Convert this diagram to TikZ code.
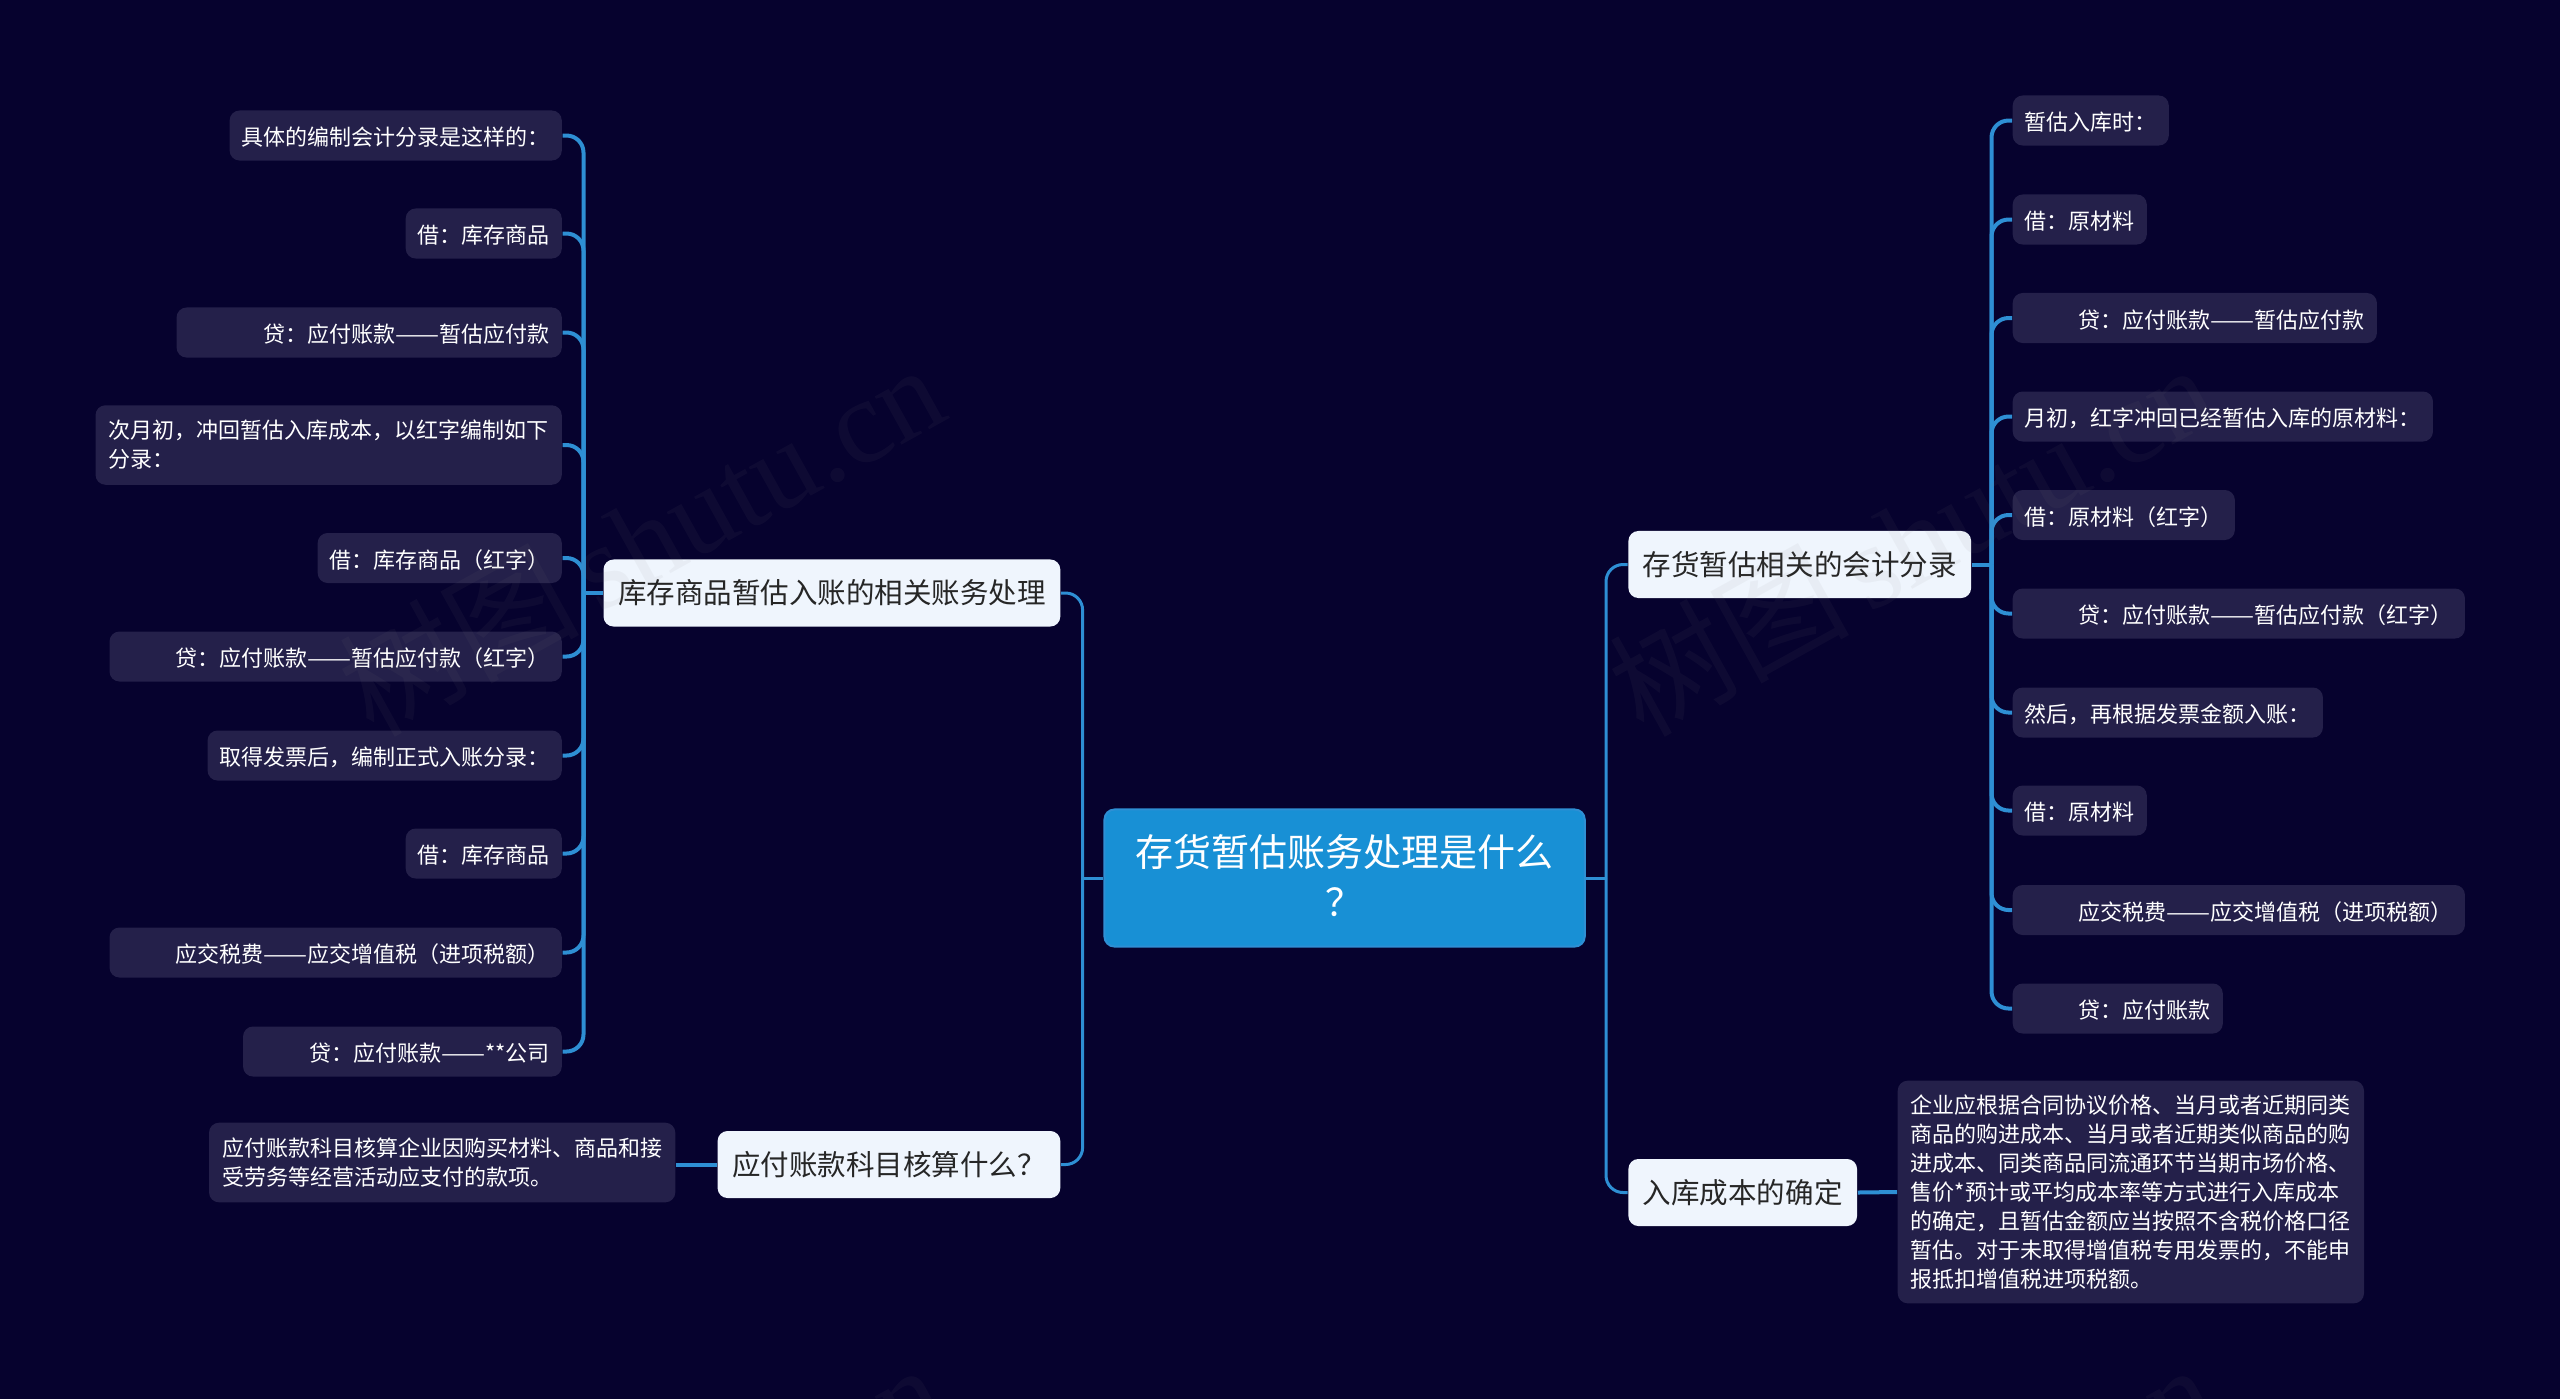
\documentclass[tikz,border=0pt]{standalone}
\usepackage{fontspec}
\setmainfont{Noto Sans CJK SC}
\newfontfamily\markFont{Liberation Serif}
\newfontfamily\markFontCJK{Noto Sans CJK SC}
\newcommand*{\dashLong}{\resizebox{2em}{\height}{——}}

\definecolor{pageBg}{HTML}{06022E}
\definecolor{leafFill}{HTML}{24204A}
\definecolor{hubFill}{HTML}{EFF5FD}
\definecolor{rootFill}{HTML}{1890D5}
\definecolor{linkBlue}{HTML}{2E8FD4}

\tikzset{
	leaf/.style={fill=leafFill,text=white,rounded corners=0.1cm,align=left,
		inner xsep=0.12cm,inner ysep=0.125cm,minimum height=0.5cm,
		execute at begin node={\rule{0pt}{0.224cm}},
		font=\fontsize{0.22cm}{0.29cm}\selectfont},
	hub/.style={fill=hubFill,text=black!85,rounded corners=0.1cm,
		inner xsep=0.145cm,inner ysep=0.1cm,minimum height=0.67cm,
		font=\fontsize{0.285cm}{0.36cm}\selectfont},
	root/.style={fill=rootFill,draw=linkBlue,line width=0.02cm,text=white,rounded corners=0.1cm,
		align=center,minimum width=4.8cm,minimum height=1.37cm,
		execute at end node={\rule[-0.05cm]{0pt}{0pt}},
		font=\fontsize{0.38cm}{0.505cm}\selectfont},
	mainLink/.style={draw=linkBlue,line width=0.03cm,rounded corners=0.17cm},
	subLink/.style={draw=linkBlue,line width=0.04cm,rounded corners=0.17cm},
	shutuMark/.style={gray,opacity=0.07,rotate=29,inner sep=0pt,
		font=\fontsize{1.2cm}{1.2cm}\markFont}
}

\begin{document}
\begin{tikzpicture}[x=0.01cm,y=-0.01cm]
	\useasboundingbox (0,0) rectangle (2560,1399);
	\fill[pageBg] (0,0) rectangle (2560,1399);
	
	% root
	\node[root] (root) at (1344.6,878) {存货暂估账务处理是什么\\？};
	
	% hubs left
	\node[hub,anchor=east] (hubStock) at (1061,593) {库存商品暂估入账的相关账务处理};
	\node[hub,anchor=east] (hubPayable) at (1061,1164.5) {应付账款科目核算什么？};
	
	% hubs right
	\node[hub,anchor=west] (hubEntry) at (1627.7,564.5) {存货暂估相关的会计分录};
	\node[hub,anchor=west] (hubCost) at (1627.7,1192.5) {入库成本的确定};
	
	% leaves of hubStock
	\node[leaf,anchor=east] (leafA1) at (562.5,135.5) {具体的编制会计分录是这样的：};
	\node[leaf,anchor=east] (leafA2) at (562.5,233.5) {借：库存商品};
	\node[leaf,anchor=east] (leafA3) at (562.5,332.5) {\hspace*{0.75cm}贷：应付账款\dashLong 暂估应付款};
	\node[leaf,anchor=east,inner xsep=0.13cm,inner ysep=0.15cm] (leafA4) at (562.5,445) {次月初，冲回暂估入库成本，以红字编制如下\\分录：};
	\node[leaf,anchor=east] (leafA5) at (562.5,558) {借：库存商品（红字）};
	\node[leaf,anchor=east] (leafA6) at (562.5,656.5) {\hspace*{0.54cm}贷：应付账款\dashLong 暂估应付款（红字）};
	\node[leaf,anchor=east] (leafA7) at (562.5,755.5) {取得发票后，编制正式入账分录：};
	\node[leaf,anchor=east] (leafA8) at (562.5,853.5) {借：库存商品};
	\node[leaf,anchor=east] (leafA9) at (562.5,952.5) {\hspace*{0.54cm}应交税费\dashLong 应交增值税（进项税额）};
	\node[leaf,anchor=east] (leafA10) at (562.5,1051.5) {\hspace*{0.54cm}贷：应付账款\dashLong **公司};
	
	% leaf of hubPayable
	\node[leaf,anchor=east,inner xsep=0.13cm,inner ysep=0.15cm] (leafB1) at (676,1162.5) {应付账款科目核算企业因购买材料、商品和接\\受劳务等经营活动应支付的款项。};
	
	% leaves of hubEntry
	\node[leaf,anchor=west] (leafC1) at (2012,120.5) {暂估入库时：};
	\node[leaf,anchor=west] (leafC2) at (2012,219.5) {借：原材料};
	\node[leaf,anchor=west] (leafC3) at (2012,318) {\hspace*{0.54cm}贷：应付账款\dashLong 暂估应付款};
	\node[leaf,anchor=west] (leafC4) at (2012,416.5) {月初，红字冲回已经暂估入库的原材料：};
	\node[leaf,anchor=west] (leafC5) at (2012,515) {借：原材料（红字）};
	\node[leaf,anchor=west] (leafC6) at (2012,613.5) {\hspace*{0.54cm}贷：应付账款\dashLong 暂估应付款（红字）};
	\node[leaf,anchor=west] (leafC7) at (2012,712.5) {然后，再根据发票金额入账：};
	\node[leaf,anchor=west] (leafC8) at (2012,810.5) {借：原材料};
	\node[leaf,anchor=west] (leafC9) at (2012,910) {\hspace*{0.54cm}应交税费\dashLong 应交增值税（进项税额）};
	\node[leaf,anchor=west] (leafC10) at (2012,1008.5) {\hspace*{0.54cm}贷：应付账款};
	
	% leaf of hubCost
	\node[leaf,anchor=west,inner xsep=0.13cm,inner ysep=0.14cm] (leafD1) at (1897,1192) {企业应根据合同协议价格、当月或者近期同类\\商品的购进成本、当月或者近期类似商品的购\\进成本、同类商品同流通环节当期市场价格、\\售价*预计或平均成本率等方式进行入库成本\\的确定，且暂估金额应当按照不含税价格口径\\暂估。对于未取得增值税专用发票的，不能申\\报抵扣增值税进项税额。};
	
	% spines
	\coordinate (spineL) at (1082.6,878);
	\coordinate (spineR) at (1606,878);
	\coordinate (spineA) at (583.5,593);
	\coordinate (spineC) at (1991.5,564.5);
	
	% connection lines
	\draw[mainLink] (root.west) -- (spineL);
	\draw[mainLink] (root.east) -- (spineR);
	\draw[mainLink] (hubStock.east) -| (spineL);
	\draw[mainLink] (hubPayable.east) -| (spineL);
	\draw[mainLink] (hubEntry.west) -| (spineR);
	\draw[mainLink] (hubCost.west) -| (spineR);
	\draw[subLink] (hubStock.west) -- (spineA);
	\draw[subLink] (hubEntry.east) -- (spineC);
	\foreach \i in {1,...,10} {
		\draw[subLink] (leafA\i.east) -| (spineA);
		\draw[subLink] (leafC\i.west) -| (spineC);
	}
	\draw[subLink] (hubPayable.west) -- (hubPayable.west -| leafB1.east);
	\draw[subLink] (hubCost.east) -- (leafD1.west);
	
	% watermark
	\node[shutuMark] (markA) at (641,538) {{\markFontCJK 树图}\hspace{0.18cm}shutu.cn};
	\node[shutuMark] (markB) at (1911,538) {{\markFontCJK 树图}\hspace{0.18cm}shutu.cn};
	\node[shutuMark] (markC) at (641,1538) {{\markFontCJK 树图}\hspace{0.18cm}shutu.cn};
	\node[shutuMark] (markD) at (1911,1538) {{\markFontCJK 树图}\hspace{0.18cm}shutu.cn};
\end{tikzpicture}
\end{document}
